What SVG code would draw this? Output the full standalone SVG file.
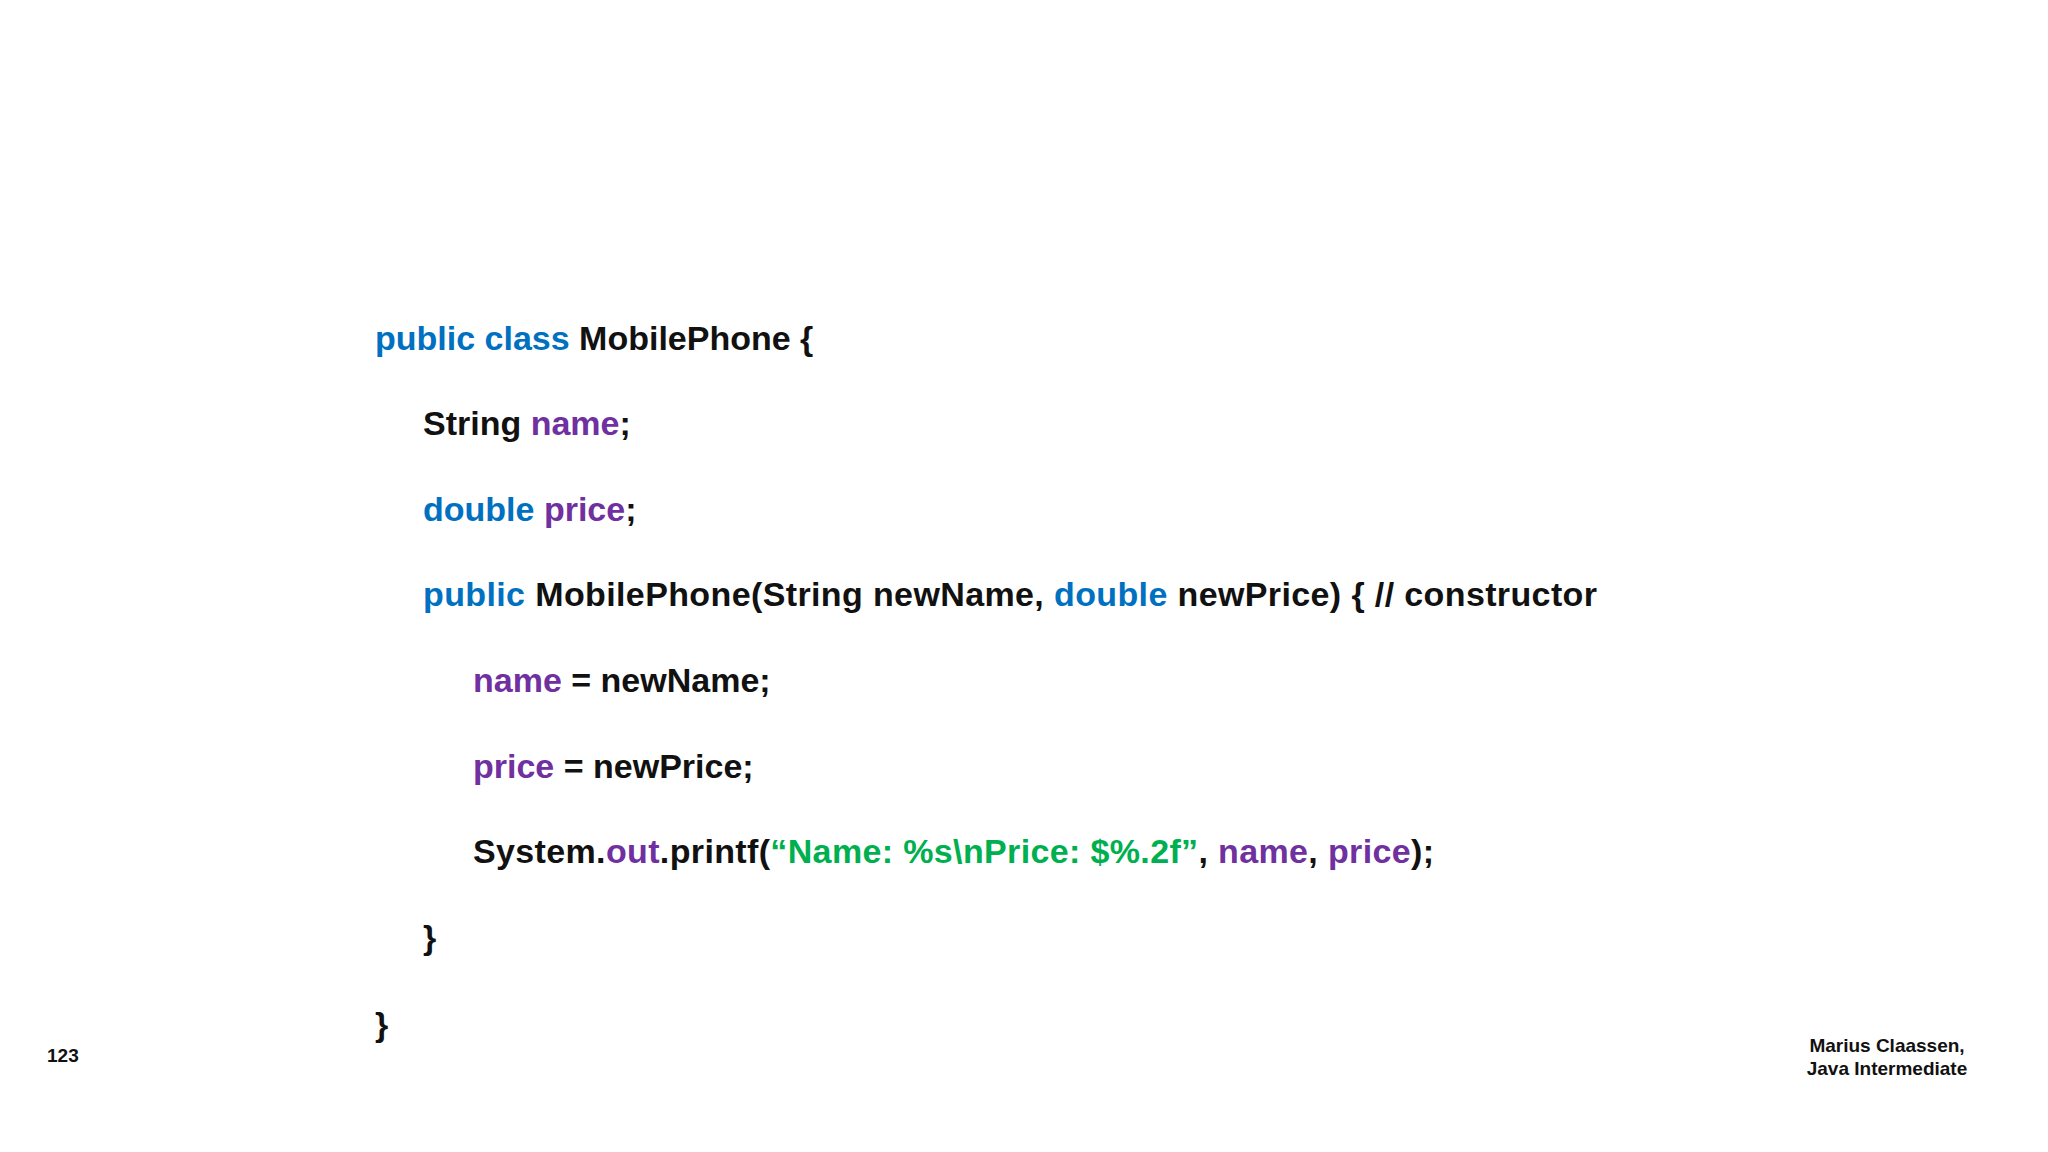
<svg xmlns="http://www.w3.org/2000/svg" width="2048" height="1152" viewBox="0 0 2048 1152">
<style>
.c{font-family:"Liberation Sans",Arial,sans-serif;font-weight:bold;font-size:34px;fill:#111}
.k{fill:#0070C0}.v{fill:#7030A0}.s{fill:#00B050}
.f{font-family:"Liberation Sans",Arial,sans-serif;font-weight:bold;font-size:19px;fill:#111}
</style>
<rect width="2048" height="1152" fill="#fff"/>
<g id="code">
<text class="c" x="375" y="350"><tspan class="k">public class</tspan> MobilePhone {</text>
<text class="c" x="423" y="435">String <tspan class="v">name</tspan>;</text>
<text class="c" x="423" y="521"><tspan class="k">double</tspan> <tspan class="v">price</tspan>;</text>
<text class="c" x="423" y="606" textLength="1174"><tspan class="k">public</tspan> MobilePhone(String newName, <tspan class="k">double</tspan> newPrice) { // constructor</text>
<text class="c" x="473" y="692"><tspan class="v">name</tspan> = newName;</text>
<text class="c" x="473" y="778"><tspan class="v">price</tspan> = newPrice;</text>
<text class="c" x="473" y="863" textLength="961">System.<tspan class="v">out</tspan>.printf(<tspan class="s">“Name: %s\nPrice: $%.2f”</tspan>, <tspan class="v">name</tspan>, <tspan class="v">price</tspan>);</text>
<text class="c" x="423" y="949">}</text>
<text class="c" x="375" y="1036">}</text>
</g>
<g id="footer">
<text class="f" x="47" y="1062">123</text>
<text class="f" x="1887" y="1052" text-anchor="middle">Marius Claassen,</text>
<text class="f" x="1887" y="1075" text-anchor="middle">Java Intermediate</text>
</g>
</svg>
